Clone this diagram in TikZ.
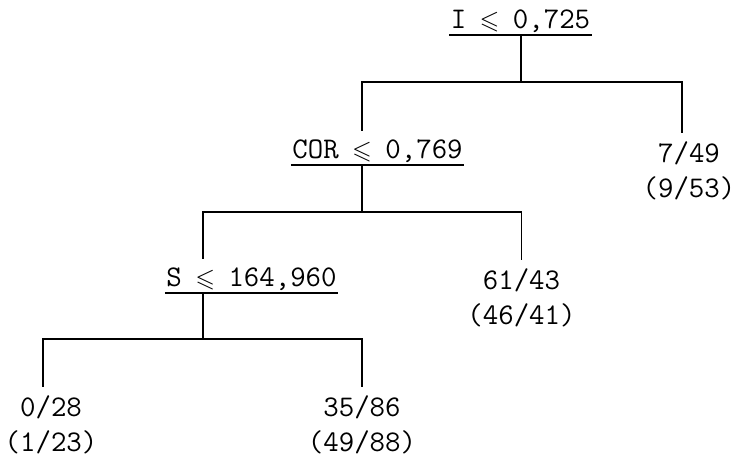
\documentclass[tikz,border=0pt]{standalone}
\usepackage{amssymb}
\usepackage{graphicx}
\usepackage{tikz}
\newcommand{\lesl}{\makebox[0.525em]{\scalebox{0.85}{$\leqslant$}}}

\begin{document}
\begin{tikzpicture}[x=1pt,y=-1pt,line width=1.1pt,
	split/.style={anchor=south, font=\fontsize{30}{35}\selectfont\ttfamily,
		text height=21pt, text depth=0pt, inner xsep=1pt, inner ysep=6pt},
	leaf/.style={anchor=north, align=center, font=\fontsize{30}{35}\selectfont\ttfamily,
		inner sep=0pt, yshift=-8pt}]
	\useasboundingbox (0,0) rectangle (736,459);
	% splits
	\node[split] (root) at (520.5,35) {I \lesl{} 0,725};
	\node[split] (cor) at (377.5,165) {COR \lesl{} 0,769};
	\node[split] (s) at (251.5,293) {S \lesl{} 164,960};
	\foreach \n in {root,cor,s}
		\draw (\n.south west) -- (\n.south east);
	% joints
	\coordinate (j1) at (521,82);
	\coordinate (j2) at (362,212);
	\coordinate (j3) at (203,339);
	% leaves
	\node[leaf] (l1) at (689,133) {7/49\\(9/53)};
	\node[leaf] (l2) at (521.5,260) {61/43\\(46/41)};
	\node[leaf] (l3) at (51,387) {0/28\\(1/23)};
	\node[leaf] (l4) at (362,387) {35/86\\(49/88)};
	% tree
	\draw (root.south -| j1) -- (j1);
	\draw (j1) -| (cor.north -| j2);
	\draw (j1) -| ([xshift=-7pt,yshift=8pt]l1.north);
	\draw (cor.south -| j2) -- (j2);
	\draw (j2) -| (s.north -| j3);
	\draw (j2) -| ([yshift=8pt]l2.north);
	\draw (s.south -| j3) -- (j3);
	\draw (j3) -| ([xshift=-8pt,yshift=8pt]l3.north);
	\draw (j3) -| ([yshift=8pt]l4.north);
\end{tikzpicture}
\end{document}
